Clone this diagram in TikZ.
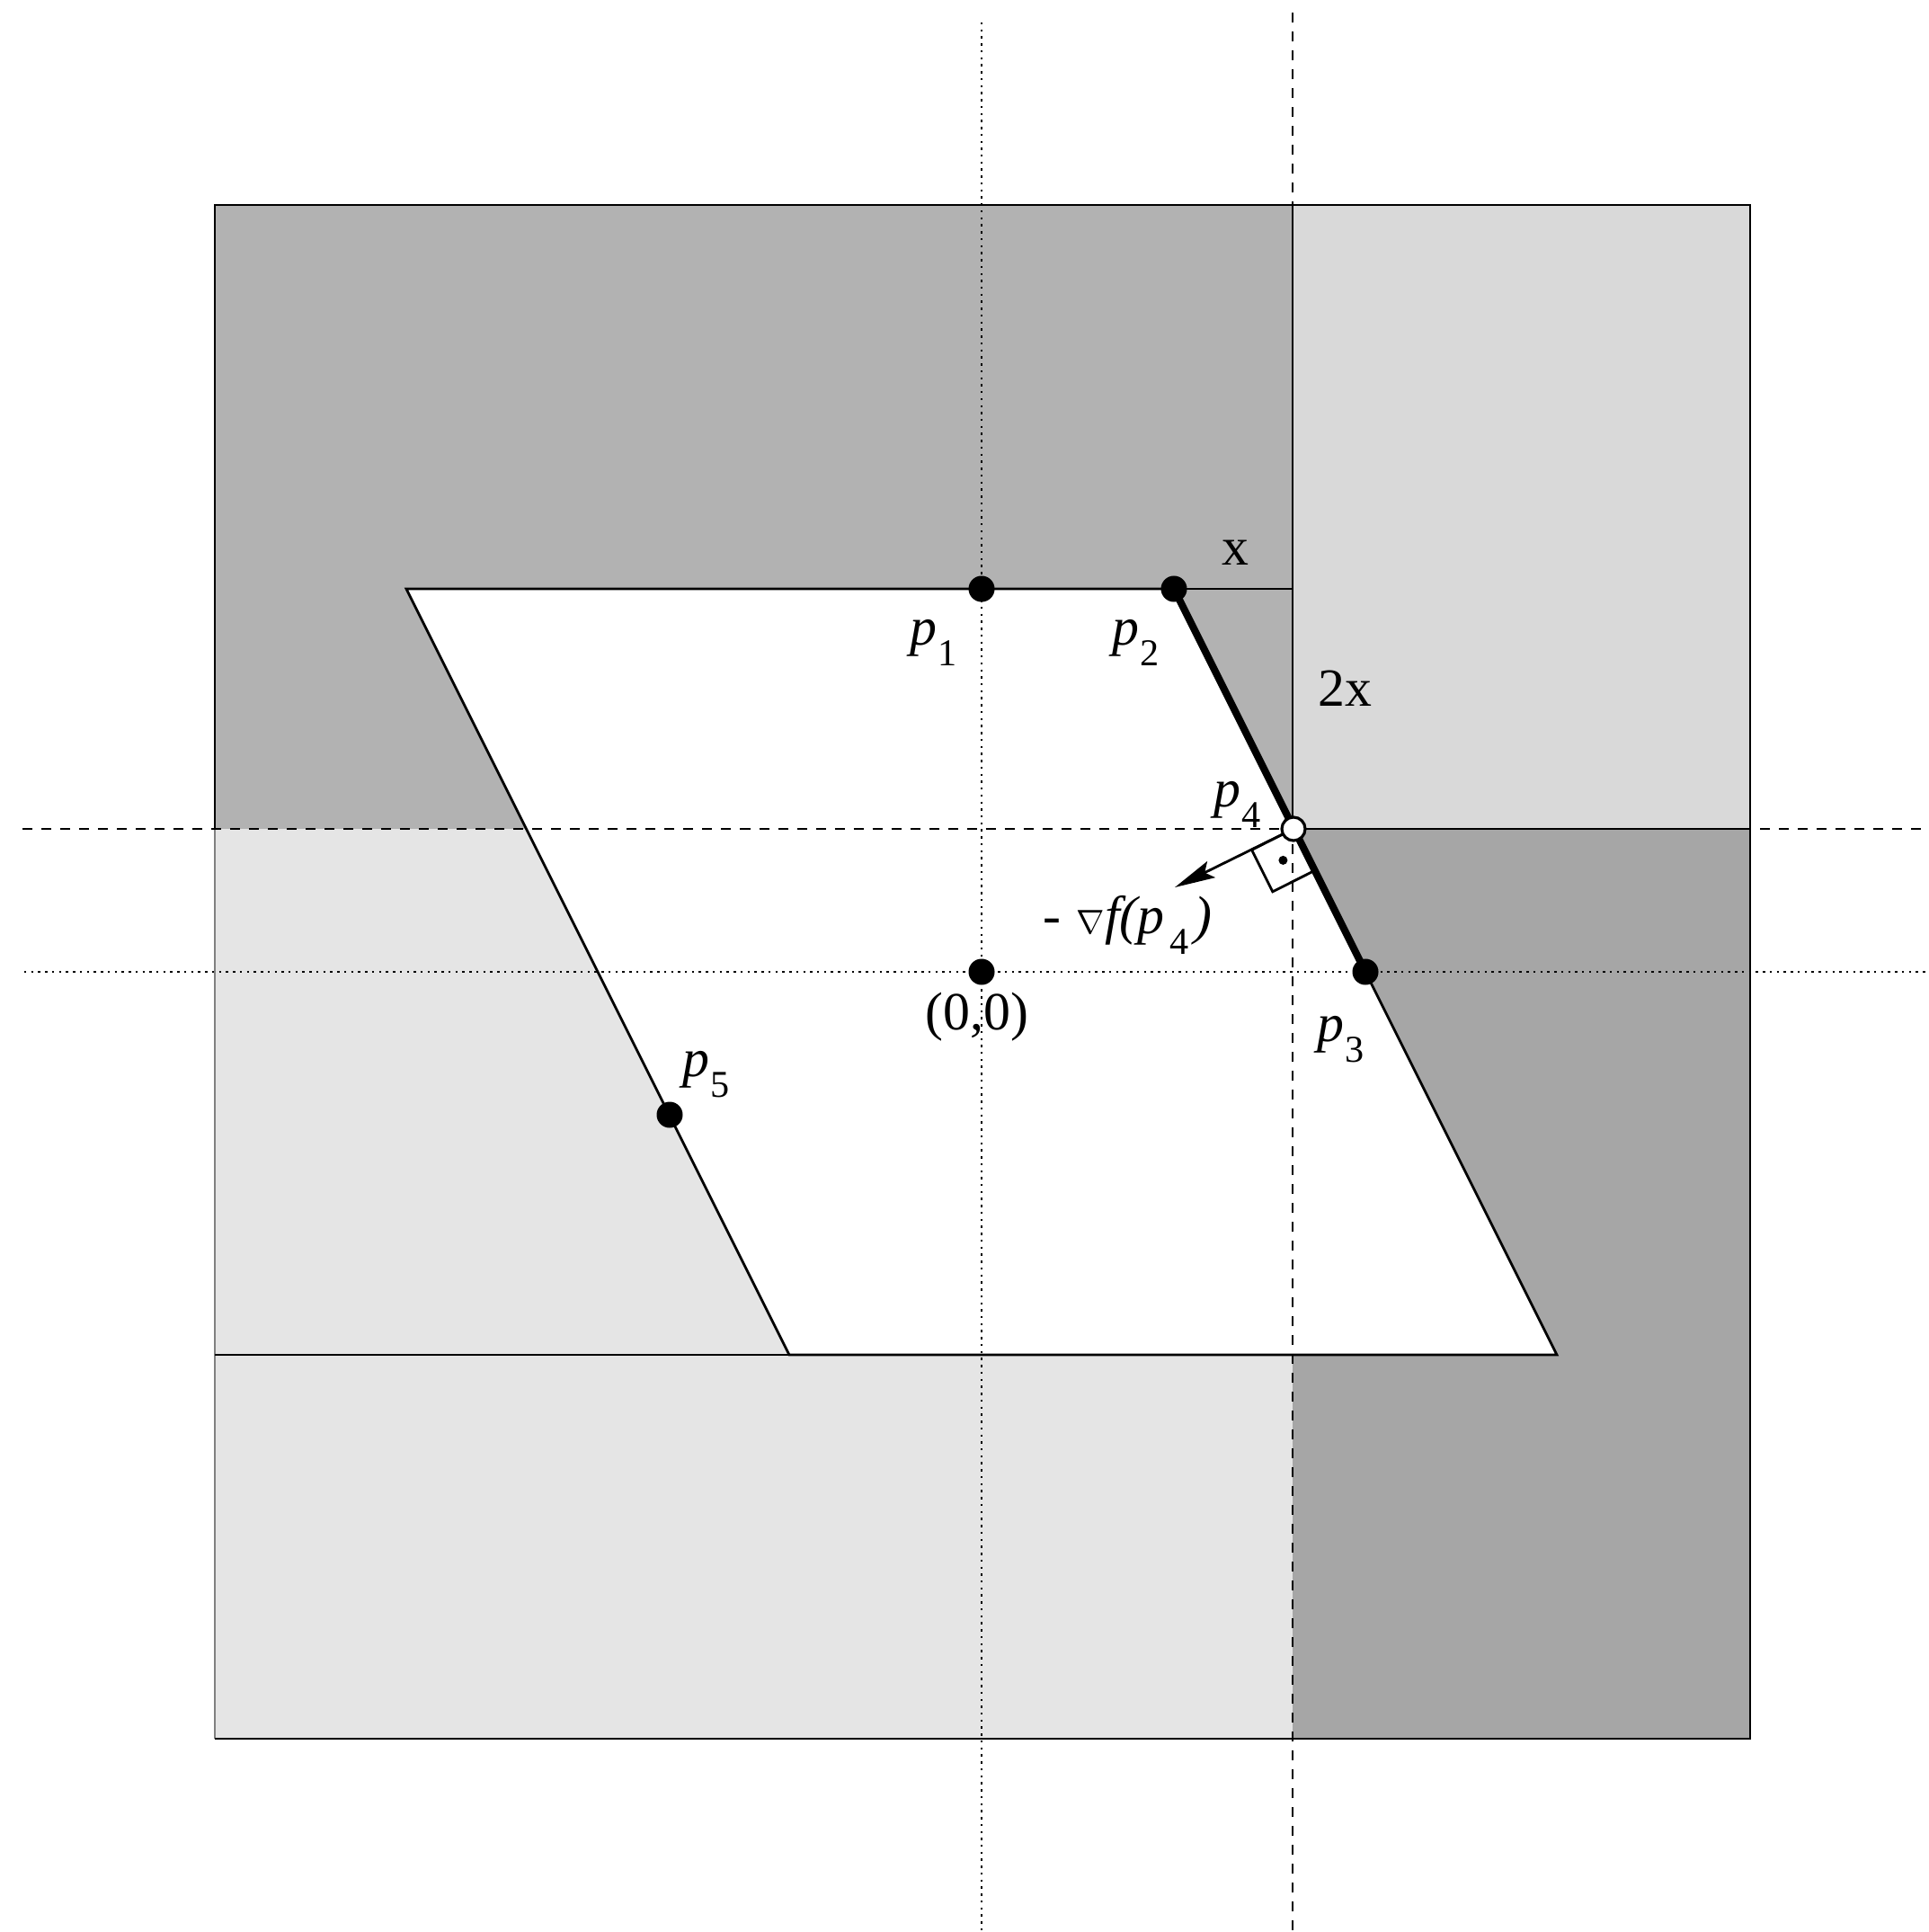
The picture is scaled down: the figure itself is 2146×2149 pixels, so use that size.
\documentclass[tikz,border=0pt]{standalone}
\usepackage{fontspec}
\setmainfont{Liberation Serif}
\usepackage{graphicx}
\usetikzlibrary{arrows.meta}
\definecolor{tlgray}{gray}{0.70}
\definecolor{trgray}{gray}{0.85}
\definecolor{brgray}{gray}{0.65}
\definecolor{blgray}{gray}{0.90}
\newcommand{\subx}[1]{\raisebox{-0.4em}{\fontsize{12}{12}\selectfont #1}}
\newcommand{\plab}[1]{\textit{p}\kern0.03em\subx{#1}}
\begin{document}
\begin{tikzpicture}[x=0.01cm,y=-0.01cm,
  lab/.style={font=\fontsize{17}{20}\selectfont, inner sep=0pt, outer sep=0pt},
  thinln/.style={line width=0.8pt},
  thickln/.style={line width=2.3pt},
  dashln/.style={line width=0.7pt, dash pattern=on 0.11cm off 0.10cm},
  dotln/.style={line width=0.7pt, dash pattern=on 0.7pt off 1.5pt},
  dot/.style={circle, fill=black, inner sep=0pt, minimum size=0.29cm},
  opendot/.style={circle, draw=black, fill=white, line width=0.9pt, inner sep=0pt, minimum size=0.26cm},
  centdot/.style={circle, fill=black, inner sep=0pt, minimum size=0.1cm},
  gradarrow/.style={line width=0.8pt, -{Stealth[length=0.45cm, width=0.2cm, inset=0.08cm]}}]
\useasboundingbox (0,0) rectangle (2146,2149);
% regions
\fill[tlgray] (239,228) rectangle (1438,922);
\fill[trgray] (1438,228) rectangle (1947,922);
\fill[brgray] (1438,922) rectangle (1947,1934);
\fill[blgray] (239,922) rectangle (1438,1934);
% parallelogram
\coordinate (A) at (452,655);
\coordinate (B) at (1306,655);
\coordinate (Cc) at (1732,1507);
\coordinate (D) at (878,1507);
\filldraw[thinln, fill=white] (A) -- (B) -- (Cc) -- (D) -- cycle;
% frame and region borders
\draw[thinln, gray] (239,922) -- (239,1934);
\draw[thinln] (239,922) -- (239,228) -- (1947,228) -- (1947,1934) -- (239,1934);
\draw[thinln] (1438,228) -- (1438,922) -- (1947,922);
\draw[thinln] (B) -- (1438,655);
\draw[thinln] (239,1507) -- (D);
% dashed and dotted axes
\draw[dashln] (1438,14) -- (1438,2149);
\draw[dashln] (25,922) -- (2146,922);
\draw[dotln] (1092,25) -- (1092,2149);
\draw[dotln] (27,1081) -- (2146,1081);
% points
\coordinate (p4c) at (1439,922);
\coordinate (p3c) at (1519,1081);
\draw[thickln] (B) -- (p3c);
\draw[thinln] (p4c) -- ++(-46.5,23.3) -- ++(23.3,46.5) -- ++(46.5,-23.3);
\node[centdot] (rc) at (1427.4,956.9) {};
\coordinate (gtip) at (1307,987);
\draw[gradarrow] (p4c) -- (gtip);
\node[dot] (p1) at (1092,655) {};
\node[dot] (p2) at (B) {};
\node[dot] (p3) at (p3c) {};
\node[dot] (p5) at (745,1240) {};
\node[dot] (o) at (1092,1081) {};
\node[opendot] (p4) at (p4c) {};
% labels
\node[lab, anchor=base west] (l1) at (1012,717) {\plab{1}};
\node[lab, anchor=base west] (l2) at (1237,717) {\plab{2}};
\node[lab, anchor=base west] (l3) at (1465,1158) {\plab{3}};
\node[lab, anchor=base west] (l4) at (1350,897) {\plab{4}};
\node[lab, anchor=base west] (l5) at (759,1197) {\plab{5}};
\node[lab, anchor=base] (lx) at (1374,628) {x};
\node[lab, anchor=base] (l2x) at (1496,785) {2x};
\node[lab, anchor=base] (lo) at (1087,1145) {(0,0)};
\node[lab, anchor=base west] (lg) at (1160,1038) {\textit{-\kern0.3em\scalebox{0.62}{$\nabla$}f(p}\kern0.1em\subx{4}\kern0.1em\textit{)}};
\end{tikzpicture}
\end{document}
